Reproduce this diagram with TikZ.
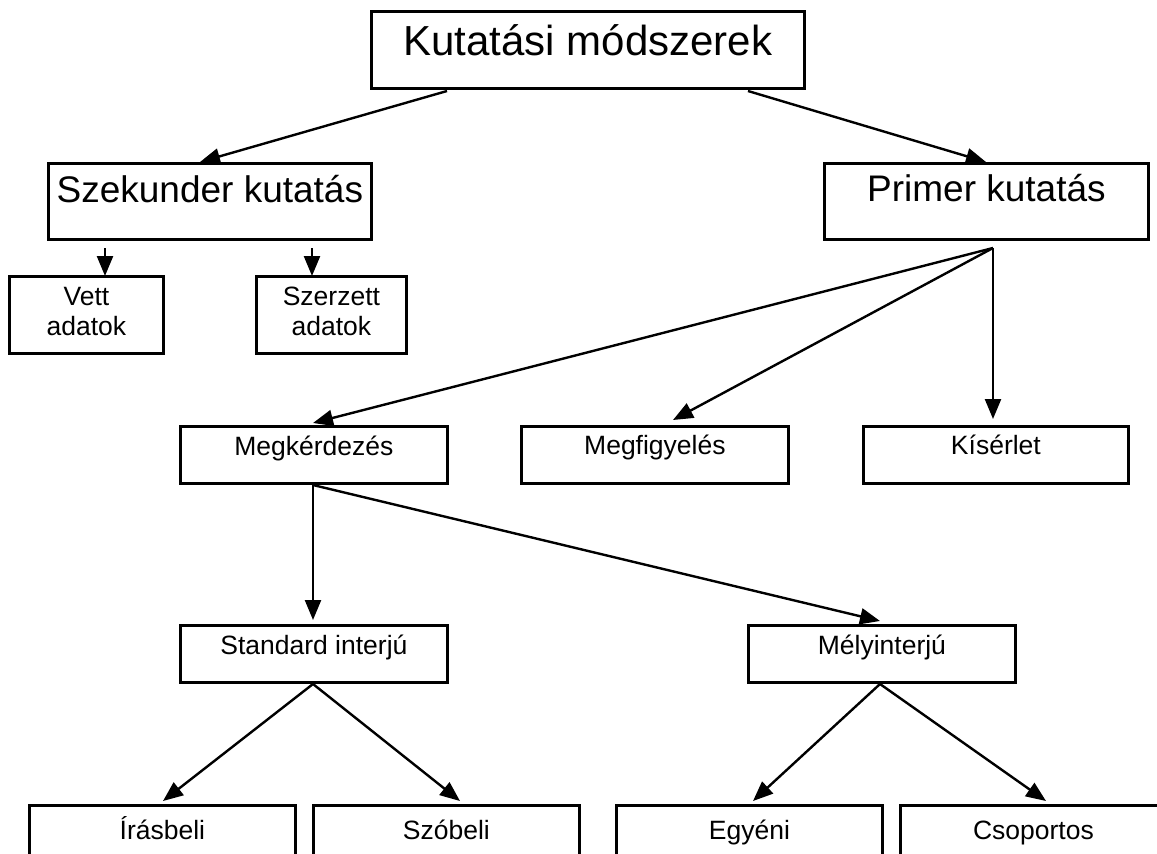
\documentclass[tikz,border=0pt]{standalone}
\usepackage{fontspec}
\setmainfont{Liberation Sans}
\usetikzlibrary{arrows.meta,calc}
\begin{document}
\begin{tikzpicture}[x=1pt,y=-1pt,
  box/.style={draw=black,line width=2.8pt,rectangle,inner sep=0pt},
  conn/.style={line width=2.4pt,-{Triangle[length=20pt,width=16pt]}},
  big/.style={font=\fontsize{42}{48}\selectfont,anchor=base,inner sep=0pt},
  mid/.style={font=\fontsize{37}{42}\selectfont,anchor=base,inner sep=0pt},
  small/.style={font=\fontsize{26.5}{30}\selectfont,anchor=base,inner sep=0pt,align=center}]
\useasboundingbox (0,0) rectangle (1157,854);
\clip (0,0) rectangle (1157,854);
\fill[white] (0,0) rectangle (1157,854);
% boxes
\node[box,minimum width=433pt,minimum height=77pt,anchor=north west] (top) at (370,10) {};
\node[big] (top-t) at ($(top.north)+(0,45)$) {Kutatási módszerek};
\node[box,minimum width=323pt,minimum height=76pt,anchor=north west] (szek) at (47,162) {};
\node[mid] (szek-t) at ($(szek.north)+(0,40)$) {Szekunder kutatás};
\node[box,minimum width=324pt,minimum height=76pt,anchor=north west] (prim) at (823,162) {};
\node[mid] (prim-t) at ($(prim.north)+(0,39)$) {Primer kutatás};
\node[box,minimum width=154pt,minimum height=77pt,anchor=north west] (vett) at (8,275) {};
\node[small] (vett-t) at ($(vett.north)+(0,60)$) {Vett\\adatok};
\node[box,minimum width=150pt,minimum height=77pt,anchor=north west] (szerz) at (255,275) {};
\node[small] (szerz-t) at ($(szerz.north)+(0,60)$) {Szerzett\\adatok};
\node[box,minimum width=267pt,minimum height=57pt,anchor=north west] (megk) at (179,425) {};
\node[small] (megk-t) at ($(megk.north)+(0,30)$) {Megkérdezés};
\node[box,minimum width=267pt,minimum height=57pt,anchor=north west] (megf) at (520,425) {};
\node[small] (megf-t) at ($(megf.north)+(0,29)$) {Megfigyelés};
\node[box,minimum width=265pt,minimum height=57pt,anchor=north west] (kis) at (862,425) {};
\node[small] (kis-t) at ($(kis.north)+(0,29)$) {Kísérlet};
\node[box,minimum width=267pt,minimum height=57pt,anchor=north west] (std) at (179,624) {};
\node[small] (std-t) at ($(std.north)+(0,30)$) {Standard interjú};
\node[box,minimum width=267pt,minimum height=57pt,anchor=north west] (mely) at (747,624) {};
\node[small] (mely-t) at ($(mely.north)+(0,30)$) {Mélyinterjú};
\node[box,minimum width=266pt,minimum height=70pt,anchor=north west] (iras) at (28,804) {};
\node[small] (iras-t) at ($(iras.north)+(0,35)$) {Írásbeli};
\node[box,minimum width=266pt,minimum height=70pt,anchor=north west] (szob) at (312,804) {};
\node[small] (szob-t) at ($(szob.north)+(0,35)$) {Szóbeli};
\node[box,minimum width=266pt,minimum height=70pt,anchor=north west] (egy) at (615,804) {};
\node[small] (egy-t) at ($(egy.north)+(0,35)$) {Egyéni};
\node[box,minimum width=266pt,minimum height=70pt,anchor=north west] (csop) at (899,804) {};
\node[small] (csop-t) at ($(csop.north)+(0,35)$) {Csoportos};
% connector start points
\coordinate (top-l) at (447,91);
\coordinate (top-r) at (748,91);
\coordinate (szek-l) at (105,248);
\coordinate (szek-r) at (312,248);
\coordinate (prim-o) at (993,248);
\coordinate (megk-o) at (313,485);
\coordinate (std-o) at (313,684);
\coordinate (mely-o) at (880,684);
% connector end points
\coordinate (szek-in) at (200,162);
\coordinate (prim-in) at (986,162);
\coordinate (vett-in) at (105,276);
\coordinate (szerz-in) at (312,276);
\coordinate (megk-in) at (313,423);
\coordinate (megf-in) at (673,420);
\coordinate (kis-in) at (993,419);
\coordinate (std-in) at (313,620);
\coordinate (mely-in) at (880,621);
\coordinate (iras-in) at (163,801);
\coordinate (szob-in) at (460,801);
\coordinate (egy-in) at (753,801);
\coordinate (csop-in) at (1046,801);
% connectors
\draw[conn] (top-l) -- (szek-in);
\draw[conn] (top-r) -- (prim-in);
\draw[conn] (szek-l) -- (vett-in);
\draw[conn] (szek-r) -- (szerz-in);
\draw[conn] (prim-o) -- (megk-in);
\draw[conn] (prim-o) -- (megf-in);
\draw[conn] (prim-o) -- (kis-in);
\draw[conn] (megk-o) -- (std-in);
\draw[conn] (megk-o) -- (mely-in);
\draw[conn] (std-o) -- (iras-in);
\draw[conn] (std-o) -- (szob-in);
\draw[conn] (mely-o) -- (egy-in);
\draw[conn] (mely-o) -- (csop-in);
\end{tikzpicture}
\end{document}
